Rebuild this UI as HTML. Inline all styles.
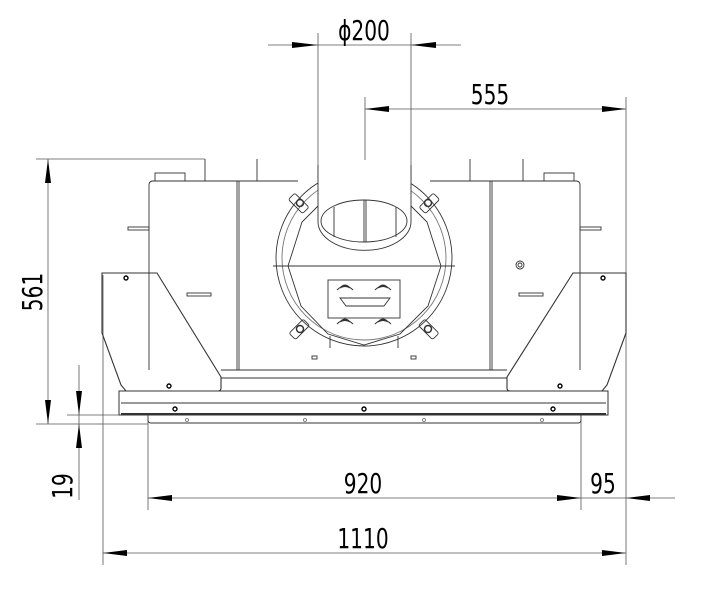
<!DOCTYPE html>
<html><head><meta charset="utf-8"><style>
html,body{margin:0;padding:0;background:#fff;width:705px;height:589px;overflow:hidden}
svg{display:block}
text{font-family:"DejaVu Sans","Liberation Sans",sans-serif;fill:#000}
</style></head><body>
<svg width="705" height="589" viewBox="0 0 705 589" xmlns="http://www.w3.org/2000/svg">
<g stroke="#555" stroke-width="0.8" fill="none">
<line x1="318" y1="33" x2="318" y2="180"/>
<line x1="411" y1="33" x2="411" y2="180"/>
<line x1="365" y1="97" x2="365" y2="160"/>
<line x1="626" y1="97" x2="626" y2="565"/>
<line x1="103" y1="275" x2="103" y2="565"/>
<line x1="148" y1="420" x2="148" y2="510"/>
<line x1="581" y1="420" x2="581" y2="510"/>
<line x1="36" y1="159" x2="205" y2="159"/>
<line x1="36" y1="424" x2="148" y2="424"/>
<line x1="67" y1="415" x2="120" y2="415"/>
<line x1="268" y1="45" x2="461" y2="45"/>
<line x1="365" y1="109" x2="626" y2="109"/>
<line x1="48" y1="159" x2="48" y2="424"/>
<line x1="79" y1="365" x2="79" y2="500"/>
<line x1="148" y1="498" x2="675" y2="498"/>
<line x1="103" y1="553" x2="626" y2="553"/>
</g>
<g fill="#000">
<polygon points="318,45 292,42 292,48"/>
<polygon points="411,45 436,42 436,48"/>
<polygon points="365,109 389,106 389,112"/>
<polygon points="626,109 602,106 602,112"/>
<polygon points="48,159 45,183 51,183"/>
<polygon points="48,424 45,400 51,400"/>
<polygon points="79,415 76,391 82,391"/>
<polygon points="79,424 76,448 82,448"/>
<polygon points="148,498 172,495 172,501"/>
<polygon points="581,498 557,495 557,501"/>
<polygon points="626,498 650,495 650,501"/>
<polygon points="103,553 127,550 127,556"/>
<polygon points="626,553 602,550 602,556"/>
</g>
<g font-size="28">
<text transform="translate(364,40) scale(0.72,1)" text-anchor="middle">ϕ200</text>
<text transform="translate(490,104) scale(0.72,1)" text-anchor="middle">555</text>
<text transform="translate(363,493) scale(0.72,1)" text-anchor="middle">920</text>
<text transform="translate(603,493) scale(0.72,1)" text-anchor="middle">95</text>
<text transform="translate(363,548) scale(0.72,1)" text-anchor="middle">1110</text>
<text transform="translate(42,292) rotate(-90) scale(0.72,1)" text-anchor="middle">561</text>
<text transform="translate(72,486) rotate(-90) scale(0.72,1)" text-anchor="middle">19</text>
</g>

<g stroke="#333" stroke-width="0.9" fill="none">
<path d="M149,370 V185 Q149,181 153,181 H298 M430,181 H576 Q580,181 580,185 V370"/>
<line x1="237" y1="181" x2="237" y2="370"/>
<line x1="239" y1="181" x2="239" y2="370"/>
<line x1="490" y1="181" x2="490" y2="370"/>
<line x1="492" y1="181" x2="492" y2="370"/>
<rect x="155" y="173" width="30" height="8"/>
<rect x="544" y="173" width="30" height="8"/>
<line x1="205" y1="159" x2="205" y2="181"/>
<line x1="257" y1="159" x2="257" y2="181"/>
<line x1="470" y1="159" x2="470" y2="181"/>
<line x1="523" y1="159" x2="523" y2="181"/>
<rect x="128" y="227" width="21" height="3"/>
<rect x="580" y="227" width="21" height="3"/>
<rect x="187" y="293" width="24" height="3"/>
<rect x="519" y="293" width="24" height="3"/>
<circle cx="520" cy="265" r="4"/><circle cx="520" cy="265" r="2"/>
<circle cx="364" cy="258" r="88"/>
<circle cx="364" cy="258" r="82" stroke="#777"/>
<polygon points="302,222 288,266 301,306 328,334 364,345 400,334 428,306 441,266 427,222 411,206 318,206"/>
<line x1="273" y1="266" x2="455" y2="266"/>
<path d="M318,165 V222 A46,28 0 0 0 411,222 V165" fill="#fff"/>
<ellipse cx="364" cy="221" rx="43" ry="21"/>
<line x1="364" y1="200" x2="364" y2="242"/>
<line x1="366" y1="200" x2="366" y2="242"/>
<line x1="334" y1="207" x2="334" y2="237"/>
<line x1="396" y1="207" x2="396" y2="237"/>
<rect x="328" y="280" width="72" height="38"/>
<path d="M340,298 H390 L384,306 H346 Z"/>
<g stroke-width="1">
<path d="M340,288 q5,-6 10,0 q-5,-3 -10,0 M337,290 q8,-8 16,0" />
<path d="M378,288 q5,-6 10,0 q-5,-3 -10,0 M375,290 q8,-8 16,0" />
<path d="M340,322 q5,-6 10,0 q-5,-3 -10,0 M337,324 q8,-8 16,0" />
<path d="M378,322 q5,-6 10,0 q-5,-3 -10,0 M375,324 q8,-8 16,0" />
</g>
<line x1="330" y1="336" x2="330" y2="348"/><line x1="398" y1="336" x2="398" y2="348"/>
<rect x="312" y="356" width="5" height="3"/><rect x="411" y="356" width="5" height="3"/>
<g transform="rotate(45 299 203)"><rect x="289" y="199" width="20" height="9" rx="2"/></g>
<g transform="rotate(-45 429 203)"><rect x="419" y="199" width="20" height="9" rx="2"/></g>
<g transform="rotate(-45 299 329)"><rect x="289" y="325" width="20" height="9" rx="2"/></g>
<g transform="rotate(45 429 329)"><rect x="419" y="325" width="20" height="9" rx="2"/></g>
<circle cx="300" cy="203" r="3.5" stroke-width="1.5"/><circle cx="428" cy="203" r="3.5" stroke-width="1.5"/>
<circle cx="300" cy="329" r="3.5" stroke-width="1.5"/><circle cx="428" cy="329" r="3.5" stroke-width="1.5"/>
<line x1="221" y1="370" x2="507" y2="370"/>
<line x1="221" y1="378" x2="507" y2="378"/>
<path d="M102,273 H157 L221,377 V388 Q221,391 218,391 H126 L121,385 L102,333 Z" stroke-width="1.1"/>
<path d="M626,273 H573 L507,377 V388 Q507,391 510,391 H602 L607,385 L626,333 Z" stroke-width="1.1"/>
<rect x="119" y="391" width="489" height="24" stroke-width="1"/>
<line x1="121" y1="403" x2="606" y2="403"/>
<line x1="121" y1="414" x2="606" y2="414" stroke-width="2"/>
<path d="M148,415 V420 Q148,423 151,423 H578 Q581,423 581,420 V415"/>
</g>
<g fill="#fff" stroke="#000" stroke-width="1.4">
<circle cx="126" cy="278" r="2"/><circle cx="603" cy="278" r="2"/>
<circle cx="169" cy="386" r="2"/><circle cx="560" cy="386" r="2"/>
<circle cx="175" cy="409" r="2"/><circle cx="364" cy="409" r="2"/><circle cx="553" cy="409" r="2"/>
</g>
<g fill="#fff" stroke="#666" stroke-width="0.8">
<circle cx="187" cy="420" r="1.5"/><circle cx="305" cy="420" r="1.5"/><circle cx="424" cy="420" r="1.5"/><circle cx="542" cy="420" r="1.5"/>
</g>
</svg>
</body></html>
